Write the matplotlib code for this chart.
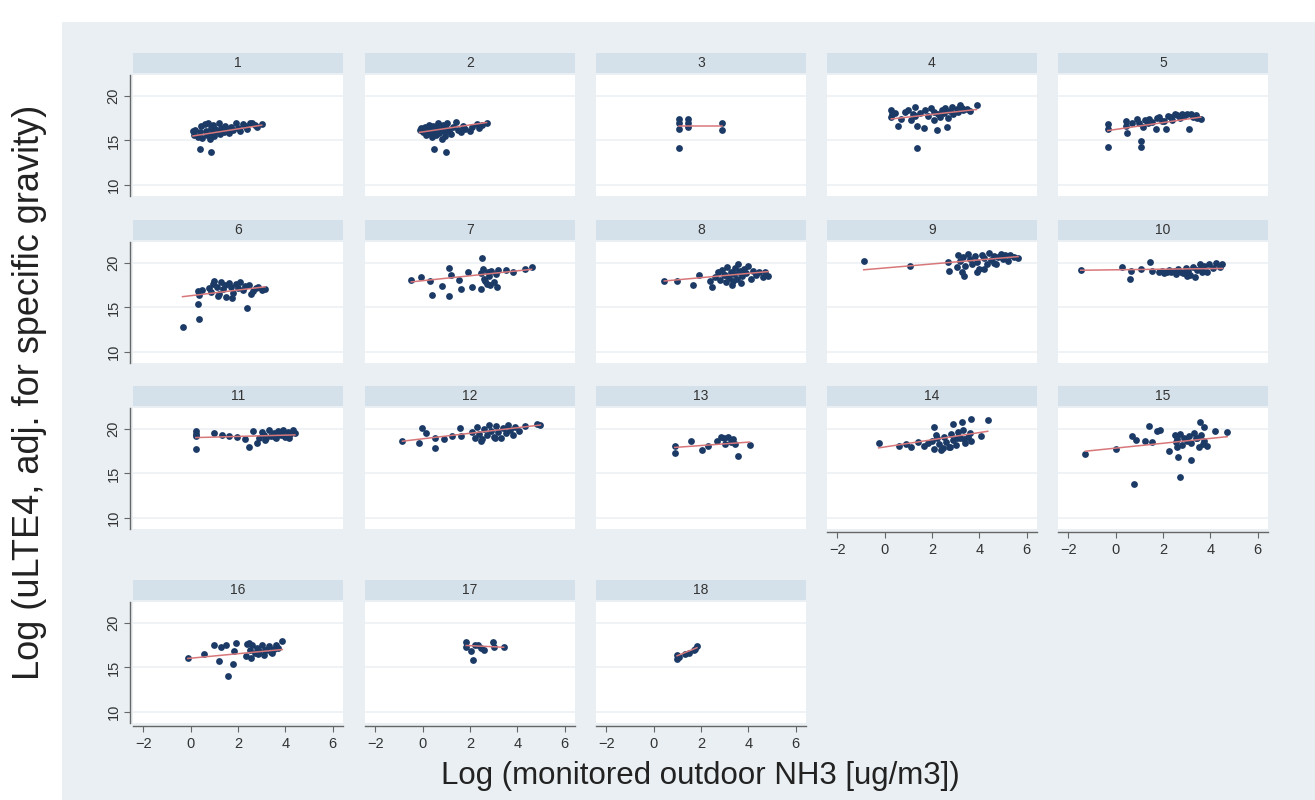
import numpy as np
import matplotlib
matplotlib.use("Agg")
import matplotlib.pyplot as plt
from matplotlib.patches import Rectangle

plt.rcParams['font.family'] = ['Liberation Sans', 'DejaVu Sans']

# ---------------- data ----------------
panel_ids = list(range(1, 19))

x1 = [0.1,0.15,0.2,0.3,0.4,0.45,0.5,0.6,0.65,0.7,0.75,0.8,0.85,0.9,0.95,1.0,1.05,1.1,1.2,1.25,1.3,1.4,1.45,1.5,1.6,1.7,1.8,1.9,2.0,2.1,2.2,2.3,2.4,2.5,2.6,2.7,2.8,3.0,0.4,0.85]
y1 = [16.0,15.6,16.2,15.4,15.9,16.6,15.3,16.8,16.1,15.6,16.9,15.2,16.4,15.8,16.7,15.5,16.3,16.0,16.9,15.7,16.4,15.9,16.6,16.2,15.8,16.5,16.2,16.9,16.4,16.0,16.8,16.6,16.3,16.9,17.0,16.7,16.5,16.8,14.05,13.7]
x2 = [-0.13,-0.05,0.0,0.1,0.15,0.2,0.25,0.3,0.35,0.4,0.45,0.5,0.55,0.6,0.65,0.7,0.75,0.8,0.85,0.9,0.95,1.0,1.05,1.1,1.2,1.3,1.4,1.5,1.6,1.7,1.8,2.0,2.1,2.3,2.4,2.5,2.7,0.5,1.0]
y2 = [16.2,16.4,15.9,16.5,15.6,16.2,16.7,15.8,16.3,15.4,16.6,16.0,15.6,16.4,16.9,15.8,16.3,15.2,16.7,16.0,15.5,16.4,16.9,16.1,15.7,16.5,17.1,16.2,15.9,16.6,16.3,16.0,16.5,16.8,16.4,16.7,17.0,14.06,13.7]
x3 = [1.06,1.06,1.06,1.06,1.44,1.44,1.44,2.88,2.88]
y3 = [17.44,16.9,16.3,14.2,17.44,16.9,16.5,17.0,16.2]
x4 = [0.28,0.28,0.3,0.45,0.56,0.7,0.85,0.98,1.1,1.2,1.3,1.3,1.35,1.37,1.5,1.67,1.72,1.85,1.95,2.07,2.1,2.2,2.27,2.35,2.41,2.5,2.55,2.62,2.69,2.75,2.83,2.9,3.04,3.1,3.18,3.25,3.32,3.46,3.6,3.88]
y4 = [18.37,17.6,17.9,18.1,16.6,17.4,18.2,18.45,17.3,17.9,18.7,17.7,16.6,14.1,18.1,16.4,18.37,17.7,18.6,17.3,18.2,16.2,18.0,17.6,18.4,18.1,18.6,16.5,17.55,18.3,18.7,18.0,18.5,18.2,18.9,18.6,18.37,18.5,18.3,18.9]
x5 = [-0.33,-0.33,-0.33,0.44,0.44,0.47,0.7,0.89,1.0,1.07,1.07,1.14,1.25,1.35,1.42,1.55,1.7,1.75,1.84,1.95,2.05,2.12,2.2,2.33,2.4,2.5,2.61,2.7,2.82,2.9,3.0,3.1,3.17,3.25,3.38,3.45,3.59]
y5 = [16.78,16.3,14.3,17.2,16.6,15.8,16.9,17.4,17.0,14.9,14.3,16.5,17.3,17.0,17.4,17.1,16.3,17.5,17.6,17.2,17.2,16.3,17.7,17.6,17.3,17.9,17.8,17.5,18.0,17.7,17.9,16.3,18.0,17.6,17.8,17.5,17.4]
x6 = [-0.34,0.32,0.36,0.32,0.34,0.5,0.77,0.85,0.95,1.0,1.1,1.2,1.3,1.35,1.45,1.5,1.6,1.7,1.8,1.9,2.0,2.1,2.2,2.3,2.38,2.45,2.55,2.65,2.75,2.85,3.0,3.14,1.15,1.75]
y6 = [12.8,15.4,13.7,16.85,16.4,17.0,17.2,16.7,17.6,17.9,17.3,16.5,17.8,17.1,17.5,16.2,17.7,17.3,16.6,17.6,17.2,17.8,16.9,17.4,14.9,17.5,16.5,16.8,17.2,17.3,16.9,17.1,16.3,16.1]
x7 = [-0.48,-0.06,0.32,0.4,0.82,1.1,1.1,1.2,1.55,1.6,1.9,2.1,2.5,2.45,2.45,2.55,2.6,2.7,2.75,2.8,2.9,3.0,3.1,3.15,3.2,3.5,3.8,4.3,4.6,2.65,2.85]
y7 = [18.05,18.35,17.97,16.4,17.4,16.3,19.4,18.6,18.1,17.1,19.0,17.3,20.5,18.8,17.1,19.3,18.2,17.6,19.0,18.5,19.1,17.8,18.7,17.3,19.2,19.2,19.0,19.25,19.55,18.0,17.5]
x8 = [0.45,0.99,1.68,1.92,2.37,2.47,2.6,2.7,2.8,2.9,3.0,3.05,3.1,3.2,3.25,3.3,3.4,3.45,3.5,3.55,3.6,3.7,3.75,3.8,3.9,4.0,4.1,4.2,4.3,4.45,4.6,4.7,4.84,3.35,3.65,2.95]
y8 = [17.95,17.95,17.55,18.67,17.9,17.3,18.4,18.9,18.1,19.2,18.6,17.8,19.5,18.3,19.0,17.5,18.7,19.4,18.2,19.8,18.9,17.7,18.5,19.3,18.8,19.6,18.2,19.1,18.6,19.0,18.4,18.9,18.5,18.0,19.1,18.6]
x9 = [-0.88,1.06,2.67,2.71,3.07,3.27,3.36,3.1,3.2,3.4,3.5,3.6,3.7,3.8,3.9,4.0,4.1,4.2,4.3,4.4,4.5,4.6,4.7,4.8,4.9,5.0,5.1,5.2,5.3,5.45,5.63,3.9,4.2,4.6,3.3]
y9 = [20.15,19.67,20.04,19.1,19.5,18.9,18.5,20.8,20.2,19.6,21.0,20.4,19.9,20.7,20.1,19.3,20.9,20.5,19.8,21.1,20.3,20.7,19.9,20.6,21.0,20.4,20.8,20.2,20.9,20.6,20.5,19.0,19.3,20.0,20.6]
x10 = [-1.47,0.27,0.62,0.66,1.06,1.45,1.55,1.85,1.95,2.05,2.15,2.25,2.35,2.45,2.55,2.65,2.75,2.85,2.95,3.05,3.15,3.25,3.35,3.45,3.55,3.65,3.75,3.85,3.95,4.1,4.25,4.4,4.51,3.0,3.6]
y10 = [19.2,19.5,18.2,19.1,19.3,20.04,19.1,18.9,19.1,18.8,19.0,19.2,18.9,19.1,18.7,19.3,19.0,18.8,19.4,19.1,18.6,19.5,18.4,19.2,19.8,19.0,19.6,18.9,19.9,19.4,20.0,19.5,19.8,18.5,19.3]
x11 = [0.22,0.22,0.22,0.22,1.0,1.33,1.6,1.96,2.3,2.45,2.65,2.8,2.9,3.0,3.1,3.2,3.3,3.4,3.5,3.6,3.7,3.8,3.9,4.0,4.1,4.2,4.3,4.4,3.15,3.55,3.85,4.15]
y11 = [19.7,19.4,19.2,17.7,19.5,19.25,19.2,19.1,18.8,17.96,19.7,18.4,19.0,19.6,19.3,18.9,19.8,19.2,19.5,19.0,19.7,19.3,19.9,19.1,19.6,19.4,19.8,19.5,18.7,19.1,19.4,19.0]
x12 = [-0.85,-0.16,-0.02,0.15,0.54,0.54,0.9,1.25,1.56,1.6,2.1,2.2,2.3,2.4,2.5,2.6,2.7,2.8,2.9,3.0,3.1,3.2,3.3,3.4,3.5,3.6,3.7,3.8,3.9,4.05,4.33,4.82,4.97,2.45,3.05]
y12 = [18.6,18.4,20.1,19.55,19.0,17.85,18.8,19.2,20.1,19.2,19.6,18.9,20.2,19.4,18.8,20.0,19.3,20.4,19.7,19.1,20.3,19.6,18.9,20.1,19.5,20.4,19.8,19.3,20.2,19.7,20.3,20.5,20.4,18.6,19.0]
x13 = [0.89,0.89,1.58,2.03,2.31,2.66,2.86,3.16,3.26,3.45,3.55,4.05,3.0,3.35,2.95]
y13 = [18.04,17.3,18.67,17.63,18.1,18.67,19.04,19.1,18.5,18.3,17.0,18.2,18.3,18.8,18.9]
x14 = [-0.25,0.6,0.9,1.1,1.39,1.65,2.08,2.0,2.1,2.2,2.3,2.4,2.5,2.6,2.7,2.8,2.9,3.0,3.1,3.2,3.3,3.4,3.5,3.66,2.87,3.27,3.66,4.35,4.06,2.15,2.45,2.75,3.05,3.35,3.6,1.85]
y14 = [18.37,18.1,18.3,17.9,18.5,18.1,20.2,18.6,17.7,18.9,18.3,17.6,19.1,18.5,17.9,19.4,18.7,18.2,19.6,18.9,19.8,18.4,19.1,18.6,20.5,20.7,21.07,21.0,19.2,19.3,17.8,18.0,19.0,18.8,19.5,18.4]
x15 = [-1.27,0.03,0.7,0.76,0.86,1.25,1.41,1.55,1.74,1.88,2.24,2.59,2.63,2.7,2.5,2.6,2.7,2.8,2.9,3.0,3.1,3.2,3.3,3.4,3.5,3.6,3.7,3.85,3.17,3.58,3.72,4.18,4.71,2.55,3.45,3.75]
y15 = [17.2,17.67,19.2,13.8,18.74,18.67,20.3,18.5,19.7,19.85,17.5,17.9,16.8,14.6,19.3,18.8,19.4,18.2,19.0,18.6,19.2,18.4,19.5,18.9,18.0,19.3,18.3,18.1,16.5,20.7,20.15,19.7,19.6,18.5,19.0,18.6]
x16 = [-0.12,0.58,1.0,1.18,1.28,1.49,1.56,1.77,1.84,1.91,2.33,2.4,2.5,2.6,2.7,2.8,2.9,3.0,3.1,3.2,3.3,3.4,3.5,3.6,3.7,3.87,2.55,2.85,3.15,3.45,2.45]
y16 = [16.08,16.45,17.46,15.7,17.3,17.46,14.0,15.35,16.8,17.7,16.3,17.6,16.9,17.5,16.6,17.2,16.8,17.5,16.4,17.0,17.4,16.7,17.1,17.5,17.2,17.9,16.1,16.5,16.9,16.6,17.7]
x17 = [1.84,1.84,2.05,2.12,2.19,2.33,2.47,2.6,2.95,3.02,3.42]
y17 = [17.8,17.3,16.8,15.8,17.55,17.45,17.2,17.0,17.85,17.3,17.3]
x18 = [0.99,0.99,1.06,1.34,1.48,1.69,1.83,1.76]
y18 = [16.44,15.9,16.2,16.5,16.6,16.9,17.35,17.1]

# fitted line values at the smallest and largest x of each panel
fit_start = [15.5, 15.9, 16.6, 17.4, 16.1, 16.2, 17.85, 17.95, 19.2, 19.15, 19.0, 18.6, 17.9, 17.85, 17.48, 16.0, 17.45, 16.3]
fit_end   = [16.7, 17.0, 16.6, 18.45, 17.6, 17.3, 19.25, 19.0, 20.67, 19.35, 19.3, 20.4, 18.5, 19.7, 19.1, 17.0, 17.25, 17.2]

xs = [x1, x2, x3, x4, x5, x6, x7, x8, x9, x10, x11, x12, x13, x14, x15, x16, x17, x18]
ys = [y1, y2, y3, y4, y5, y6, y7, y8, y9, y10, y11, y12, y13, y14, y15, y16, y17, y18]

x_ticks = [-2, 0, 2, 4, 6]
y_ticks = [10, 15, 20]
x_label = "Log (monitored outdoor NH3 [ug/m3])"
y_label = "Log (uLTE4, adj. for specific gravity)"

# ---------------- style ----------------
BG = '#e9eff3'
HDR = '#d5e1ea'
GRID = '#edf1f4'
NAVY = '#1b3a66'
RED = '#d8777a'
AXC = '#666666'
TXT = '#333333'

W, H = 1315, 800
fig = plt.figure(figsize=(W / 100, H / 100), dpi=100, facecolor='white')
fig.patches.append(Rectangle((62 / W, 0), 1 - 62 / W, 1 - 22 / H,
                             transform=fig.transFigure, facecolor=BG,
                             edgecolor='none', zorder=-5))

def px_axes(left, top, width, height):
    return fig.add_axes([left / W, 1 - (top + height) / H, width / W, height / H])

col_left = [133, 365, 596, 827, 1058]
row_top = [75, 242, 408, 602]
pw, ph = 210, 121
hdr_h, hdr_gap = 20, 2
bottom_ids = {14, 15, 16, 17, 18}

for i, pid in enumerate(panel_ids):
    if pid <= 15:
        r, c = (pid - 1) // 5, (pid - 1) % 5
    else:
        r, c = 3, pid - 16
    ax = px_axes(col_left[c], row_top[r], pw, ph)
    ax.set_facecolor('white')
    ax.set_xlim(-2.43, 6.43)
    ax.set_ylim(8.8, 22.3)
    for yv in y_ticks:
        ax.axhline(yv, color=GRID, lw=1.2, zorder=1)
    x = np.array(xs[i]); y = np.array(ys[i])
    ax.scatter(x, y, s=24, color=NAVY, linewidths=0, zorder=3)
    ax.plot([x.min(), x.max()], [fit_start[i], fit_end[i]], color=RED, lw=1.1, zorder=4)

    for s in ax.spines.values():
        s.set_visible(False)
    if c == 0:
        ax.spines['left'].set_visible(True)
        ax.spines['left'].set_color(AXC)
        ax.spines['left'].set_linewidth(1.0)
        ax.spines['left'].set_position(('outward', 2))
        ax.set_yticks(y_ticks)
        ax.tick_params(axis='y', direction='out', length=4, width=0.8, color=AXC,
                       labelsize=10.5, labelcolor=TXT, labelrotation=90, pad=3)
        for lab in ax.get_yticklabels():
            lab.set_va('center')
    else:
        ax.set_yticks([])
    if pid in bottom_ids:
        ax.spines['bottom'].set_visible(True)
        ax.spines['bottom'].set_color(AXC)
        ax.spines['bottom'].set_linewidth(1.0)
        ax.spines['bottom'].set_position(('outward', 2))
        ax.set_xticks(x_ticks)
        ax.tick_params(axis='x', direction='out', length=4, width=0.8, color=AXC,
                       labelsize=10.5, labelcolor=TXT, pad=4)
    else:
        ax.set_xticks([])

    hax = px_axes(col_left[c], row_top[r] - hdr_h - hdr_gap, pw, hdr_h)
    hax.set_facecolor(HDR)
    hax.set_xticks([]); hax.set_yticks([])
    for s in hax.spines.values():
        s.set_visible(False)
    hax.text(0.5, 0.5, str(pid), ha='center', va='center', fontsize=10, color=TXT,
             transform=hax.transAxes)

fig.text(700 / W, 1 - 776 / H, x_label, ha='center', va='center', fontsize=22.5, color='#222222')
fig.text(30 / W, 1 - 392 / H, y_label, ha='center', va='center', rotation=90,
         fontsize=26, color='#222222')

fig.savefig('out.png', dpi=100, facecolor=fig.get_facecolor())
